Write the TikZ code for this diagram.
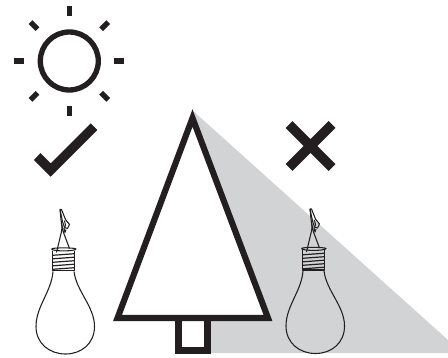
\documentclass[tikz,border=0pt]{standalone}
\usepackage{xcolor}
\definecolor{shadowgray}{HTML}{D1D3D4}
\definecolor{inkblack}{HTML}{231F20}
\begin{document}
\begin{tikzpicture}[
        x=0.75pt, y=-0.75pt,
        % Estilos dos contornos
        heavyline/.style={draw=inkblack, line width=4.6pt, miter limit=20},
        sunline/.style={draw=inkblack, line width=4pt},
        markline/.style={draw=inkblack, line width=7.4pt},
        bulbline/.style={draw=inkblack, line width=0.8pt, line join=round},
        threadline/.style={draw=inkblack, line width=0.9pt},
        % Lampada suspensa, desenhada em torno do topo do gargalo
        bulb/.pic={
            \draw[bulbline] (-11.5,22) .. controls (-13,42) and (-28.5,57) .. (-28.5,77)
                .. controls (-28.5,94) and (-15,104.5) .. (1,104.5)
                .. controls (17,104.5) and (30,94) .. (30,77)
                .. controls (30,57) and (12,42) .. (9.5,22);
            % Rosca
            \draw[bulbline] (-12,1) -- (-12,21) -- (10,21) -- (10,1);
            \foreach \ythread in {5,8.5,12,15.5,19}
                \draw[threadline] (-12,\ythread+0.8) -- (10,\ythread-0.8);
            % Aro
            \draw[bulbline] (-13,-0.5) .. controls (-13,-2) and (11,-2) .. (11.5,-0.5)
                .. controls (11.5,2) and (-13,2) .. (-13,-0.5);
            % Fio e garra
            \draw[bulbline] (-8,3) -- (-3,-18) -- (-2.5,-22) (5,-1) -- (-1,-17) -- (-3,-26);
            \draw[bulbline] (-4.5,-40) -- (-3,-40) -- (1,-30) -- (5,-25) -- (3,-21) -- (0,-22) -- (-2,-28) -- cycle;
            \draw[bulbline] (-4.5,-40) -- (-3.5,-30) -- (-2.5,-22);
            \draw[bulbline] (0,-29) -- (1,-24) -- (-0.5,-21) -- (0.5,-17) -- (1.5,-20);
        }
    ]

    \useasboundingbox (0,0) rectangle (448,357);

    % Sombra
    \fill[shadowgray] (192,110) -- (448,340) -- (448,353) -- (205,353) -- cycle;

    % Sol
    \draw[sunline] (69.3,61) circle (29);
    \foreach \angray in {0,45,...,315}
        \draw[sunline] (69.3,61) ++(\angray:45) -- ++(\angray:10);

    % Certo e errado
    \fill[inkblack] (34,160) -- (40.5,153) -- (50.7,163.3) -- (90.7,123.3) -- (97.3,130) -- (50.7,176.7) -- cycle;
    \draw[markline] (289,124.5) -- (332,167.5) (332,124.5) -- (289,167.5);

    % Arvore
    \draw[heavyline, fill=white] (178.5,318) rectangle (207.5,350.5);
    \draw[heavyline, fill=white] (192.5,118) -- (268,318) -- (117.5,318) -- cycle;

    % Lampadas
    \pic at (64.5,249.5) {bulb};
    \pic at (314.5,249) {bulb};

\end{tikzpicture}
\end{document}
